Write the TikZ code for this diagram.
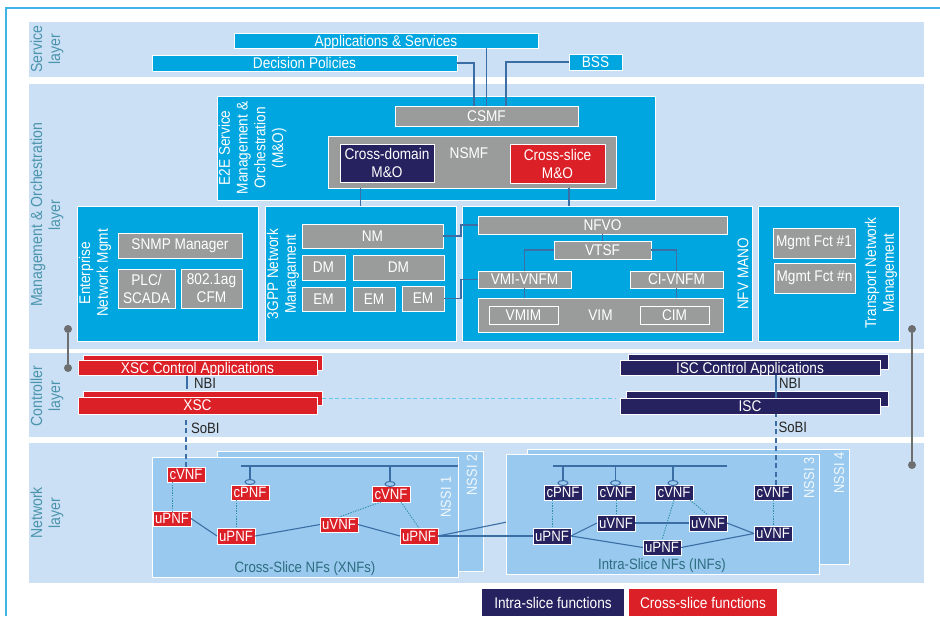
\documentclass[tikz,border=0pt]{standalone}
\usepackage{fontspec}
\setmainfont[FakeStretch=0.88]{Liberation Sans}
\usetikzlibrary{shapes.geometric}
\definecolor{cblue}{HTML}{00A6E0}
\definecolor{clight}{HTML}{CBE0F4}
\definecolor{cgrey}{HTML}{9A9C9C}
\definecolor{cnavy}{HTML}{26225F}
\definecolor{cred}{HTML}{DC2027}
\definecolor{cnf}{HTML}{99C9EE}
\definecolor{cframe}{HTML}{3FB4E6}
\definecolor{cteal}{HTML}{4A94AD}
\definecolor{cdark}{HTML}{2D6D80}
\definecolor{cline}{HTML}{3A6EA5}
\definecolor{cdots}{HTML}{2F8FA8}
\definecolor{cpin}{HTML}{6D6E70}
\tikzset{
  base/.style={rectangle,inner sep=0pt,outer sep=0pt,align=center,text=white,font=\fontsize{15.5}{18}\selectfont},
  band/.style={base,fill=clight},
  bluebox/.style={base,fill=cblue,draw=white,line width=0.9pt},
  greybox/.style={base,fill=cgrey,draw=white,line width=0.9pt},
  navybox/.style={base,fill=cnavy,draw=white,line width=0.9pt},
  redbox/.style={base,fill=cred,draw=white,line width=0.9pt},
  nfbox/.style={base,fill=cnf,draw=white,line width=0.9pt},
  rednf/.style={redbox,font=\fontsize{15}{16}\selectfont},
  navynf/.style={navybox,font=\fontsize{15}{16}\selectfont},
  legnavy/.style={base,fill=cnavy},
  legred/.style={base,fill=cred},
  framebar/.style={base,fill=cframe},
  lowtext/.style={text height=12pt,text depth=1pt},
  layerlabel/.style={rotate=90,align=center,text=cteal,font=\fontsize{16}{18}\selectfont},
  boxlabel/.style={rotate=90,align=center,text=white,font=\fontsize{15.5}{17.7}\selectfont},
  nssilabel/.style={rotate=90,text=white!88!cnf,font=\fontsize{14.5}{16}\selectfont},
  nflabel/.style={text=cdark,font=\fontsize{15}{16}\selectfont},
  blacklabel/.style={text=black!85,font=\fontsize{15}{16}\selectfont},
  plainlabel/.style={text=white,font=\fontsize{15.5}{18}\selectfont},
  conn/.style={draw=cline,line width=1.1pt},
  dotconn/.style={draw=cdots,line width=0.9pt,dash pattern=on 1.3pt off 1.3pt},
  sobi/.style={draw=cline,line width=1.1pt,dash pattern=on 5pt off 3.5pt},
  peer/.style={draw=cblue!60,line width=0.9pt,dash pattern=on 4pt off 2.5pt},
  pin/.style={circle,fill=cpin,minimum size=8pt,inner sep=0pt,outer sep=0pt},
  pinline/.style={draw=cpin,line width=1.1pt},
  loop/.style={ellipse,draw=cline,line width=1pt,minimum width=10pt,minimum height=5pt,inner sep=0pt,outer sep=0pt},
}
\newcommand{\bx}[7][]{\node[#7,#1,minimum width={(#4-#2)*1pt},minimum height={(#5-#3)*1pt}] (#6) at ({(#2+#4)/2},{(#3+#5)/2}) {};}
\newcommand{\tbx}[8][]{\node[#7,#1,minimum width={(#4-#2)*1pt},minimum height={(#5-#3)*1pt}] (#6) at ({(#2+#4)/2},{(#3+#5)/2}) {#8};}
\begin{document}
\begin{tikzpicture}[x=1pt,y=-1pt]
\useasboundingbox (0,0) rectangle (940,616);
\fill[white] (0,0) rectangle (940,616);
% frame
\bx{4.5}{6.5}{940}{8.5}{ftop}{framebar}
\bx{4.5}{6.5}{6.5}{616}{fleft}{framebar}
% layer bands
\bx{29}{22}{924}{77}{bandS}{band}
\bx{29}{84}{924}{349}{bandM}{band}
\bx{29}{353}{924}{437}{bandC}{band}
\bx{29}{443}{924}{583}{bandN}{band}
\node[layerlabel] (lS) at (47,49) {Service\\layer};
\node[layerlabel] (lM) at (47,215) {Management \& Orchestration\\layer};
\node[layerlabel] (lC) at (47,396) {Controller\\layer};
\node[layerlabel] (lN) at (47,513) {Network\\layer};
% service layer
\tbx[text height=11.5pt,text depth=0.5pt]{234}{33}{538}{48}{apps}{bluebox}{Applications \& Services}
\tbx{152}{55}{457}{71}{dp}{bluebox}{Decision Policies}
\tbx{569}{54}{622}{70}{bss}{bluebox}{BSS}
% management boxes
\bx{217}{96}{655}{200}{e2e}{bluebox}
\node[boxlabel] (e2el) at (252.5,148) {E2E Service\\Management \&\\Orchestration\\(M\&O)};
\tbx{395}{106}{578}{126}{csmf}{greybox}{CSMF}
\bx{328}{136}{616}{188}{nsmf}{greybox}
\node[plainlabel] (nsmfl) at (469,153) {NSMF};
\tbx{340}{144}{434}{182}{xdom}{navybox}{Cross-domain\\M\&O}
\tbx{510}{144}{605}{183}{xsl}{redbox}{Cross-slice\\M\&O}
\bx{77.5}{206}{258}{341}{ent}{bluebox}
\node[boxlabel] (entl) at (95,273) {Enterprise\\Network Mgmt};
\tbx{118}{233}{242}{258}{snmp}{greybox}{SNMP Manager}
\tbx{118}{269}{175}{308}{plc}{greybox}{PLC/\\SCADA}
\tbx{181}{269}{242}{308}{cfm}{greybox}{802.1ag\\CFM}
\bx{265}{206}{456}{341}{gpp}{bluebox}
\node[boxlabel] (gppl) at (283,274) {3GPP Network\\Managament};
\tbx{302}{224}{443}{248}{nm}{greybox}{NM}
\tbx{302}{255}{345}{280}{dm1}{greybox}{DM}
\tbx{353}{255}{444}{280}{dm2}{greybox}{DM}
\tbx{302}{287}{345}{311}{em1}{greybox}{EM}
\tbx{353}{287}{395}{311}{em2}{greybox}{EM}
\tbx{402}{286}{444}{311}{em3}{greybox}{EM}
\bx{462}{206}{752}{341}{nfv}{bluebox}
\node[boxlabel] (nfvl) at (743,274) {NFV MANO};
\tbx{478}{216}{727}{234}{nfvo}{greybox}{NFVO}
\tbx{554}{241}{651}{259}{vtsf}{greybox}{VTSF}
\tbx{478}{271}{571}{288}{vmi}{greybox}{VMI-VNFM}
\tbx{630}{271}{723}{288}{civ}{greybox}{CI-VNFM}
\bx{478}{298}{723}{332}{vim}{greybox}
\node[plainlabel] (viml) at (600.5,315) {VIM};
\tbx{489}{306}{558}{324}{vmim}{greybox}{VMIM}
\tbx{640}{306}{709}{324}{cim}{greybox}{CIM}
\bx{758}{206}{899}{341}{trn}{bluebox}
\node[boxlabel] (trnl) at (881,273) {Transport Network\\Management};
\tbx{773}{228}{855}{258}{mf1}{greybox}{Mgmt Fct \#1}
\tbx{774}{263}{855}{293}{mfn}{greybox}{Mgmt Fct \#n}
% service / management connectors
\draw[conn] (dp.east) -| ([xshift=-12.5pt]csmf.north);
\draw[conn] (apps.south -| csmf.north) -- (csmf.north);
\draw[conn] (bss.west) -| ([xshift=19.5pt]csmf.north);
\draw[conn] (nsmf.south -| gpp.north) -- (gpp.north);
\draw[conn] ([xshift=-38pt]nfv.north) -- ([xshift=-38pt]nfv.north |- nsmf.south);
\draw[conn] (nm.east) -- ++(18,0) |- (nfvo.west);
\draw[conn] (em3.east) -- ++(17,0) |- (vmi.west);
\draw[conn] (nfvo.south) -- (vtsf.north);
\draw[conn] (vtsf.west) -| (vmi.north);
\draw[conn] (vtsf.east) -| (civ.north);
\draw[conn] (vmi.south) -- (vmi.south |- vim.north);
\draw[conn] (civ.south) -- (civ.south |- vim.north);
% controller layer
\bx{83}{355}{322}{370}{xappb}{redbox}
\tbx[lowtext]{78}{360}{317}{375}{xapp}{redbox}{XSC Control Applications}
\bx{83}{391}{322}{405}{xscb}{redbox}
\tbx{78}{397}{317}{414}{xsc}{redbox}{XSC}
\bx{628}{354}{888}{369}{iappb}{navybox}
\tbx[lowtext]{620}{360}{880}{375}{iapp}{navybox}{ISC Control Applications}
\bx{626}{391}{888}{406}{iscb}{navybox}
\tbx{620}{398}{880}{414}{isc}{navybox}{ISC}
\draw[conn,shorten <=1pt,shorten >=2pt] ([xshift=-10.5pt]xapp.south) -- ([xshift=-15.5pt]xscb.north);
\draw[conn] ([xshift=26pt]iapp.south) -- ([xshift=26pt]isc.north);
\draw[peer,shorten >=5pt] (xscb.east) -- (xscb.east -| isc.west);
\node[blacklabel,anchor=west] (nbi1) at (190.5,383) {NBI};
\node[blacklabel,anchor=west] (nbi2) at (775.5,383) {NBI};
\node[blacklabel,anchor=west] (sobi1) at (187.5,428) {SoBI};
\node[blacklabel,anchor=west] (sobi2) at (775,427) {SoBI};
% pins
\node[pin] (pl1) at (68,329) {};
\node[pin] (pl2) at (68,368) {};
\node[pin] (pr1) at (912,329) {};
\node[pin] (pr2) at (912,465) {};
\draw[pinline] (pl1) -- (pl2);
\draw[pinline] (pr1) -- (pr2);
% network layer containers
\bx{217}{451}{483}{571}{n2}{nfbox}
\bx{152.5}{457.5}{458}{577}{n1}{nfbox}
% link hidden behind the INF box
\tbx{400}{528}{438}{544}{xu3}{rednf}{uPNF}
\coordinate (xlinkend) at (512,521);
\draw[conn] (xu3.east) -- (xlinkend);
\bx{527}{449}{849}{564}{n4}{nfbox}
\bx{506}{454.5}{819}{574.5}{n3}{nfbox}
\node[nssilabel] (nl1) at (446,497) {NSSI 1};
\node[nssilabel] (nl2) at (472,475) {NSSI 2};
\node[nssilabel] (nl3) at (809,478) {NSSI 3};
\node[nssilabel] (nl4) at (839,473) {NSSI 4};
\node[nflabel] (nfx) at (305,569) {Cross-Slice NFs (XNFs)};
\node[nflabel] (nfi) at (662,566) {Intra-Slice NFs (INFs)};
% XNF nodes
\tbx{167}{467}{205}{482}{xc1}{rednf}{cVNF}
\tbx{231}{485}{269}{500}{xp}{rednf}{cPNF}
\tbx{372}{486}{410}{502}{xc2}{rednf}{cVNF}
\tbx{153}{511}{191}{526}{xu1}{rednf}{uPNF}
\tbx{217}{528}{255}{544}{xu2}{rednf}{uPNF}
\tbx{320}{517}{358}{532}{xv}{rednf}{uVNF}
% XNF bus
\coordinate (xb1) at (241,466);
\coordinate (xb2) at (458,466);
\node[loop] (xe1) at (250,482) {};
\node[loop] (xe2) at (390,484) {};
\draw[conn] (xb1) -- (xb2);
\draw[conn] (xe1.north |- xb1) -- (xe1.north);
\draw[conn] (xe2.north |- xb1) -- (xe2.north);
% XNF links
\draw[dotconn] (xc1.south -| xu1.north) -- (xu1.north);
\draw[dotconn] (xp.south -| xu2.north) -- (xu2.north);
\draw[dotconn] ([xshift=-10pt]xc2.south) -- (xv.north);
\draw[dotconn] ([xshift=10pt]xc2.south) -- (xu3.north);
\draw[conn] (xu1.east) -- (xu2.west);
\draw[conn] (xu2.east) -- (xv.west);
\draw[conn] (xv.east) -- (xu3.west);
% INF nodes
\tbx{544}{485}{582}{500}{ip}{navynf}{cPNF}
\tbx{597}{485}{635}{500}{ic1}{navynf}{cVNF}
\tbx{655}{485}{693}{500}{ic2}{navynf}{cVNF}
\tbx{754}{485}{792}{500}{ic3}{navynf}{cVNF}
\tbx{597}{515}{635}{531}{iv1}{navynf}{uVNF}
\tbx{689}{515}{727}{531}{iv2}{navynf}{uVNF}
\tbx{533}{528}{571}{544}{iu1}{navynf}{uPNF}
\tbx{643}{540}{681}{555}{iu2}{navynf}{uPNF}
\tbx{754}{526}{792}{541}{iv3}{navynf}{uVNF}
\coordinate (ib1) at (553,466);
\coordinate (ib2) at (727,466);
\node[loop] (ie1) at (563,483) {};
\node[loop] (ie2) at (615.5,483) {};
\node[loop] (ie3) at (673,483) {};
\draw[conn] (ib1) -- (ib2);
\draw[conn] (ie1.north |- ib1) -- (ie1.north);
\draw[conn] (ie2.north |- ib1) -- (ie2.north);
\draw[conn] (ie3.north |- ib1) -- (ie3.north);
\draw[dotconn] (iu1.north |- ip.south) -- (iu1.north);
\draw[dotconn] (ic1.south) -- (iv1.north);
\draw[dotconn] (ic2.south) -- (iu2.north);
\draw[dotconn] ([xshift=-3pt]ic2.south east) -- (iv2.north);
\draw[dotconn] (ic3.south) -- (iv3.north);
\draw[conn] (iu1.east) -- (iv1.west);
\draw[conn] (iu1.east) -- (iu2.west);
\draw[conn] (iv1.east) -- (iv2.west);
\draw[conn] (iv2.east) -- (iv3.west);
\draw[conn] (iu2.east) -- (iv3.west);
% long link XNF to INF
\draw[conn] (xu3.east) -- (iu1.west);
% southbound
\draw[sobi,shorten >=6pt] (xc1.north) -- (xc1.north |- xsc.south);
\draw[sobi] ([xshift=3pt]ic3.north) -- ([xshift=3pt]ic3.north |- isc.south);
% legend
\tbx{482}{589}{624}{616}{lgi}{legnavy}{Intra-slice functions}
\tbx{629}{589}{777}{616}{lgx}{legred}{Cross-slice functions}
\end{tikzpicture}
\end{document}
